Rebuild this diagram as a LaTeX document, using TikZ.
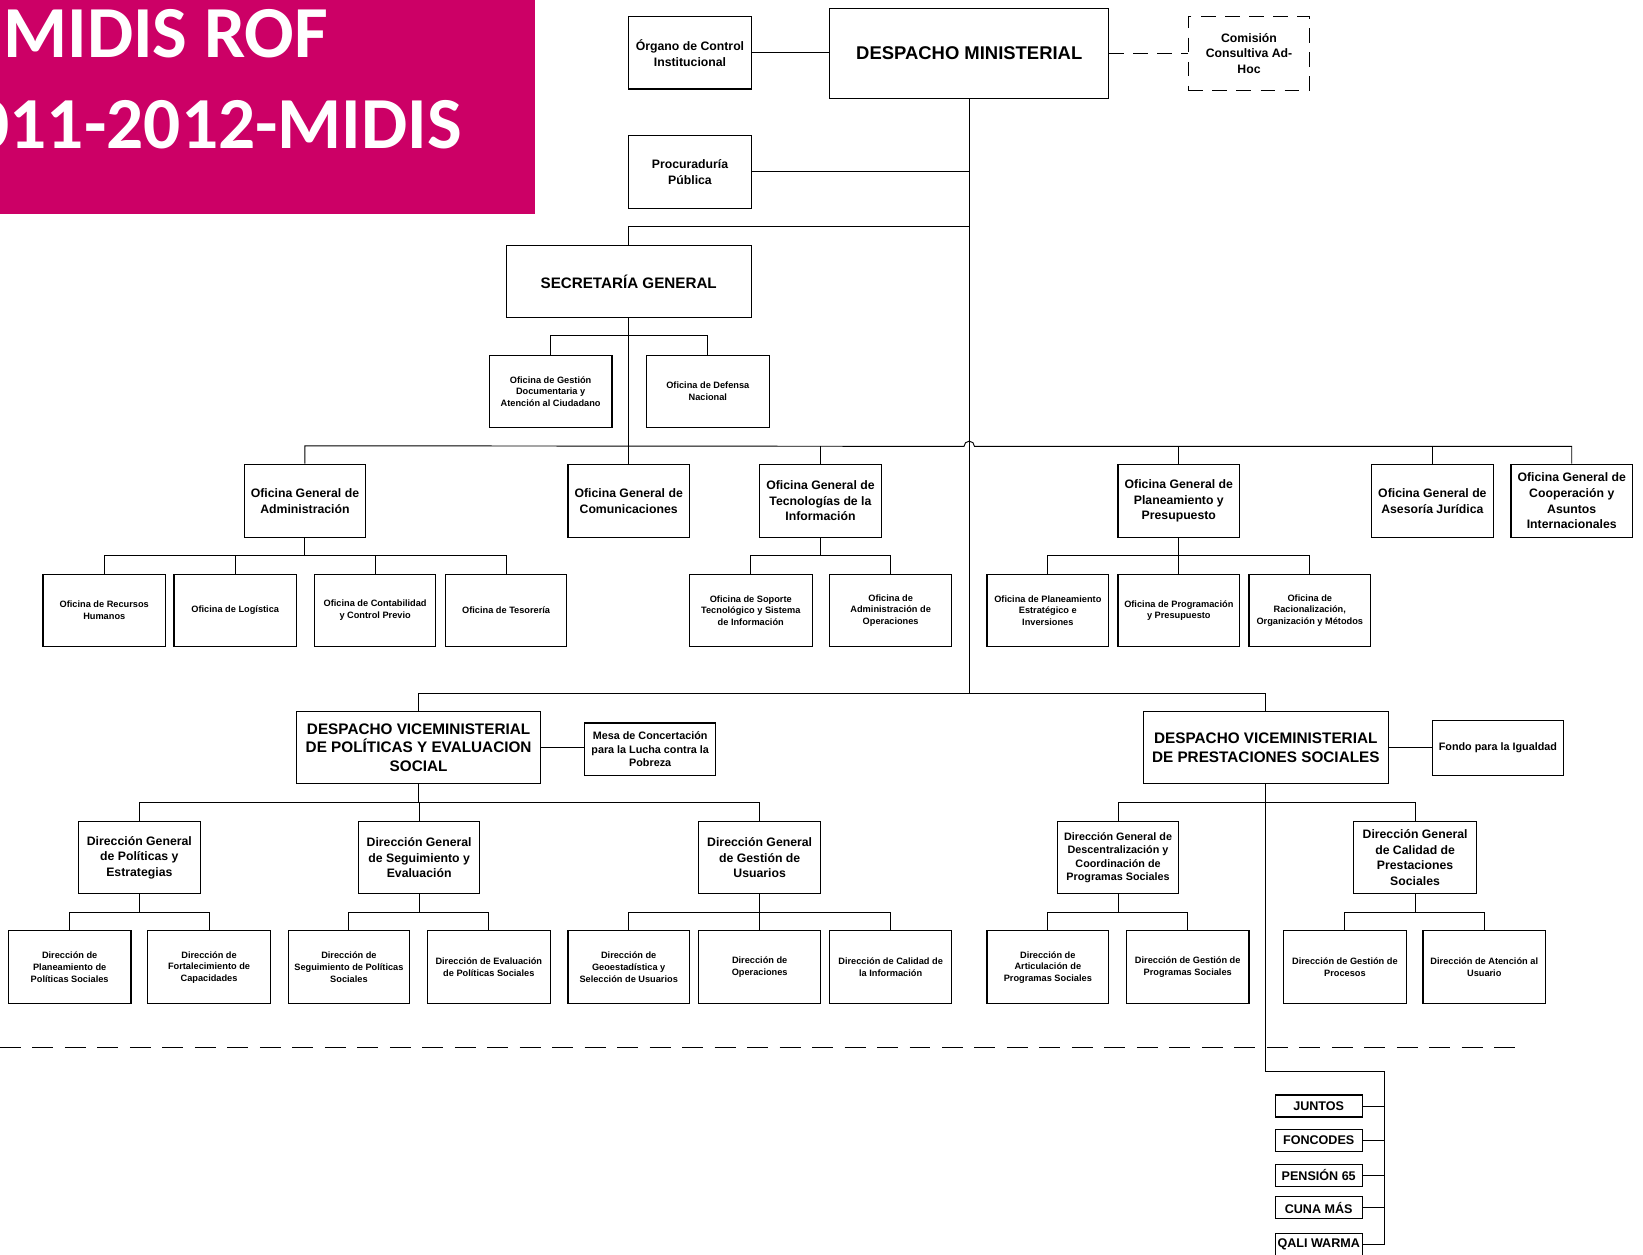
\documentclass[tikz,border=0pt]{standalone}
\usepackage{fontspec}
\setmainfont{Liberation Sans}
\newfontfamily\titlefont{Carlito}
\definecolor{midis}{RGB}{204,0,102}
\newcommand\bx[7][]{\node[box,#1,minimum width={(#5-#3)*1pt},minimum height={(#6-#4)*1pt}] (#2) at ({(#3+#5)/2},{(#4+#6)/2}) {#7};}
\begin{document}
\begin{tikzpicture}[x=1pt,y=-1pt,
  box/.style={draw,line width=1.1pt,fill=white,inner sep=0pt,align=center},
  big/.style={font=\bfseries\fontsize{17.6}{21}\selectfont},
  sec/.style={font=\bfseries\fontsize{14.5}{17}\selectfont},
  vice/.style={font=\bfseries\fontsize{14.6}{17.5}\selectfont},
  med/.style={font=\bfseries\fontsize{11.7}{15}\selectfont},
  dgd/.style={font=\bfseries\fontsize{10.3}{12.8}\selectfont},
  sml/.style={font=\bfseries\fontsize{8.8}{11}\selectfont},
  mesa/.style={font=\bfseries\fontsize{10.3}{13}\selectfont},
  prog/.style={font=\bfseries\fontsize{12}{14}\selectfont},
  dsh/.style={dash pattern=on 14pt off 9pt},
  link/.style={line width=0.9pt}]
\useasboundingbox (0,0) rectangle (1568,1197);
% title
\begin{scope}
\clip (0,0) rectangle (511,204);
\fill[midis] (0,0) rectangle (511,204);
\node[anchor=base west,text=white,inner sep=0pt,font=\titlefont\bfseries\fontsize{70}{70}\selectfont] (tA) at (3,55) {MIDIS ROF};
\node[anchor=base east,text=white,inner sep=0pt,font=\titlefont\bfseries\fontsize{70}{70}\selectfont] (tB) at (441,142) {011-2012-MIDIS};
\end{scope}
% top level
\bx[med]{org}{600}{16}{717}{85}{Órgano de Control\\Institucional}
\bx[big]{dm}{792}{8}{1058}{94}{DESPACHO MINISTERIAL}
\bx[med,dsh]{cca}{1134}{16}{1250}{86}{Comisión\\Consultiva Ad-\\Hoc}
\bx[med]{proc}{600}{129}{717}{199}{Procuraduría\\Pública}
\bx[sec]{sg}{483}{234}{717}{303}{SECRETARÍA GENERAL}
\bx[sml]{gd}{467}{339}{584}{408}{Oficina de Gestión\\Documentaria y\\Atención al Ciudadano}
\bx[sml]{dn}{617}{339}{734}{408}{Oficina de Defensa\\Nacional}
% oficinas generales
\bx[med]{adm}{233}{443}{349}{513}{Oficina General de\\Administración}
\bx[med]{comu}{542}{443}{658}{513}{Oficina General de\\Comunicaciones}
\bx[med]{ti}{725}{443}{841}{513}{Oficina General de\\Tecnologías de la\\Información}
\bx[med]{pp}{1067}{443}{1183}{513}{Oficina General de\\Planeamiento y\\Presupuesto}
\bx[med]{aj}{1309}{443}{1425}{513}{Oficina General de\\Asesoría Jurídica}
\bx[med]{coop}{1442}{443}{1558}{513}{Oficina General de\\Cooperación y\\Asuntos\\Internacionales}
% oficinas
\bx[sml]{rh}{41}{548}{158}{617}{Oficina de Recursos\\Humanos}
\bx[sml]{log}{166}{548}{283}{617}{Oficina de Logística}
\bx[sml]{cont}{300}{548}{416}{617}{Oficina de Contabilidad\\y Control Previo}
\bx[sml]{tes}{425}{548}{541}{617}{Oficina de Tesorería}
\bx[sml]{sop}{658}{548}{775}{617}{Oficina de Soporte\\Tecnológico y Sistema\\de Información}
\bx[sml]{aop}{792}{548}{908}{617}{Oficina de\\Administración de\\Operaciones}
\bx[sml]{pei}{942}{548}{1058}{617}{Oficina de Planeamiento\\Estratégico e\\Inversiones}
\bx[sml]{opp}{1067}{548}{1183}{617}{Oficina de Programación\\y Presupuesto}
\bx[sml]{rom}{1192}{548}{1308}{617}{Oficina de\\Racionalización,\\Organización y Métodos}
% viceministerios
\bx[vice]{vpol}{283}{679}{516}{748}{DESPACHO VICEMINISTERIAL\\DE POLÍTICAS Y EVALUACION\\SOCIAL}
\bx[mesa]{mesa}{558}{690}{683}{740}{Mesa de Concertación\\para la Lucha contra la\\Pobreza}
\bx[vice]{vpre}{1091}{679}{1325}{748}{DESPACHO VICEMINISTERIAL\\DE PRESTACIONES SOCIALES}
\bx[mesa]{fondo}{1367}{688}{1492}{740}{Fondo para la Igualdad}
% direcciones generales
\bx[med]{dgpe}{75}{784}{191}{853}{Dirección General\\de Políticas y\\Estrategias}
\bx[med]{dgse}{342}{784}{458}{853}{Dirección General\\de Seguimiento y\\Evaluación}
\bx[med]{dggu}{667}{784}{783}{853}{Dirección General\\de Gestión de\\Usuarios}
\bx[dgd]{dgdc}{1009}{784}{1125}{853}{Dirección General de\\Descentralización y\\Coordinación de\\Programas Sociales}
\bx[med]{dgcp}{1292}{784}{1409}{853}{Dirección General\\de Calidad de\\Prestaciones\\Sociales}
% direcciones
\bx[sml]{dpps}{8}{888}{125}{958}{Dirección de\\Planeamiento de\\Políticas Sociales}
\bx[sml]{dfc}{141}{888}{258}{958}{Dirección de\\Fortalecimiento de\\Capacidades}
\bx[sml]{dsps}{275}{888}{391}{958}{Dirección de\\Seguimiento de Políticas\\Sociales}
\bx[sml]{deps}{408}{888}{525}{958}{Dirección de Evaluación\\de Políticas Sociales}
\bx[sml]{dgsu}{542}{888}{658}{958}{Dirección de\\Geoestadística y\\Selección de Usuarios}
\bx[sml]{dop}{667}{888}{783}{958}{Dirección de\\Operaciones}
\bx[sml]{dci}{792}{888}{908}{958}{Dirección de Calidad de\\la Información}
\bx[sml]{daps}{942}{888}{1058}{958}{Dirección de\\Articulación de\\Programas Sociales}
\bx[sml]{dgps}{1075}{888}{1192}{958}{Dirección de Gestión de\\Programas Sociales}
\bx[sml]{dgp}{1225}{888}{1342}{958}{Dirección de Gestión de\\Procesos}
\bx[sml]{dau}{1358}{888}{1475}{958}{Dirección de Atención al\\Usuario}
% programas
\bx[prog]{juntos}{1217}{1045}{1300}{1066}{JUNTOS}
\bx[prog]{foncodes}{1217}{1078}{1300}{1099}{FONCODES}
\bx[prog]{pension}{1217}{1111}{1300}{1132}{PENSIÓN 65}
\bx[prog]{cuna}{1217}{1142}{1300}{1163}{CUNA MÁS}
\bx[prog]{qali}{1217}{1177}{1300}{1198}{QALI WARMA}
% coordinates
\coordinate (tSG) at (925,216);
\coordinate (tV) at (925,662);
\coordinate (bA) at (1208,1023);
\coordinate (bB) at (1321,1023);
\coordinate (dL) at (0,1000);
\coordinate (dR) at (1448,1000);
% connectors
\begin{scope}[link]
\draw (org.east) -- (org.east -| dm.west);
\draw[dsh] (dm.east) -- (dm.east -| cca.west);
\draw (dm.south) -- (tV);
\draw (proc.east) -- (proc.east -| dm.south);
\draw (sg.north) |- (tSG);
\draw (sg.south) -- (comu.north);
\draw (gd.north) -- ++(0,-18) -| (dn.north);
\draw (adm.north) -- ++(0,-17) -- (920,426) arc[start angle=180,end angle=360,radius=5] -| (coop.north);
\draw (ti.north) -- ++(0,-17);
\draw (pp.north) -- ++(0,-17);
\draw (aj.north) -- ++(0,-17);
\foreach \c in {rh,log,cont,tes} \draw (\c.north) -- ++(0,-17) -| (adm.south);
\foreach \c in {sop,aop} \draw (\c.north) -- ++(0,-17) -| (ti.south);
\foreach \c in {pei,opp,rom} \draw (\c.north) -- ++(0,-17) -| (pp.south);
\draw (vpol.north) |- (tV) -| (vpre.north);
\draw (vpol.east) -- (vpol.east -| mesa.west);
\draw (vpre.east) -- (vpre.east -| fondo.west);
\foreach \c in {dgpe,dgse,dggu} \draw (\c.north) -- ++(0,-18) -| (vpol.south);
\foreach \c in {dgdc,dgcp} \draw (\c.north) -- ++(0,-18) -| (vpre.south);
\foreach \c in {dpps,dfc} \draw (\c.north) -- ++(0,-17) -| (dgpe.south);
\foreach \c in {dsps,deps} \draw (\c.north) -- ++(0,-17) -| (dgse.south);
\foreach \c in {dgsu,dop,dci} \draw (\c.north) -- ++(0,-17) -| (dggu.south);
\foreach \c in {daps,dgps} \draw (\c.north) -- ++(0,-17) -| (dgdc.south);
\foreach \c in {dgp,dau} \draw (\c.north) -- ++(0,-17) -| (dgcp.south);
\draw (vpre.south) -- (bA) -- (bB) |- (qali.east);
\foreach \c in {juntos,foncodes,pension,cuna} \draw (\c.east) -- (\c.east -| bB);
\draw[dash pattern=on 20pt off 11pt] (dL) -- (dR);
\end{scope}
\end{tikzpicture}
\end{document}
